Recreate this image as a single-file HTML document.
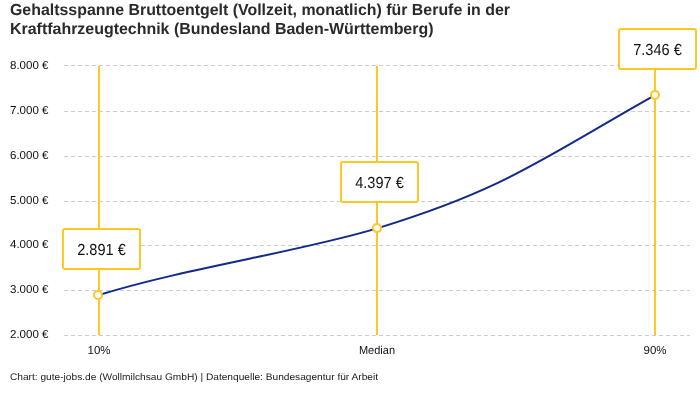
<!DOCTYPE html>
<html><head><meta charset="utf-8"><style>
html,body{margin:0;padding:0;background:#fff;}
body{width:700px;height:400px;overflow:hidden;font-family:"Liberation Sans",sans-serif;}
svg{display:block;}
</style></head><body>
<div style="will-change:transform;width:700px;height:400px;background:#fff">
<svg width="700" height="400" viewBox="0 0 700 400" font-family="Liberation Sans, sans-serif" text-rendering="geometricPrecision">
<rect width="700" height="400" fill="#fff"/>
<g stroke="#cccccc" stroke-width="1" stroke-dasharray="4 3">
<line x1="64" x2="690" y1="65.5" y2="65.5"/>
<line x1="64" x2="690" y1="111.5" y2="111.5"/>
<line x1="64" x2="690" y1="156.5" y2="156.5"/>
<line x1="64" x2="690" y1="201.5" y2="201.5"/>
<line x1="64" x2="690" y1="245.5" y2="245.5"/>
<line x1="64" x2="690" y1="290.5" y2="290.5"/>
<line x1="64" x2="690" y1="335.5" y2="335.5"/>
</g>
<g stroke="#fec723" stroke-width="2">
<line x1="99" x2="99" y1="66" y2="335"/>
<line x1="377" x2="377" y1="66" y2="335"/>
<line x1="655" x2="655" y1="66" y2="335"/>
</g>
<path transform="translate(0,0.3)" d="M98,295 C189.07,266.96 300.16,251.46 377,228.1 C505.92,188.91 543.83,157.40 655,94.9" fill="none" stroke="#112a8c" stroke-width="2"/>
<g stroke="#fec723" stroke-width="2" fill="#fff">
<circle cx="98" cy="295" r="4"/>
<circle cx="377" cy="228.1" r="4"/>
<circle cx="655" cy="94.9" r="4"/>
<rect x="63" y="229" width="77" height="40" rx="2"/>
<rect x="341" y="162" width="77" height="40" rx="2"/>
<rect x="619" y="29" width="77" height="40" rx="2"/>
</g>
<g>
<g font-weight="bold" font-size="16" fill="#2a2a2a">
<text x="10" y="14.75" textLength="500" lengthAdjust="spacingAndGlyphs">Gehaltsspanne Bruttoentgelt (Vollzeit, monatlich) für Berufe in der</text>
<text x="10" y="33.6" textLength="423.5" lengthAdjust="spacingAndGlyphs">Kraftfahrzeugtechnik (Bundesland Baden-Württemberg)</text>
</g>
<g font-size="11.5" fill="#111">
<text x="10" y="69" textLength="38.5" lengthAdjust="spacingAndGlyphs">8.000 €</text>
<text x="10" y="114" textLength="38.5" lengthAdjust="spacingAndGlyphs">7.000 €</text>
<text x="10" y="159" textLength="38.5" lengthAdjust="spacingAndGlyphs">6.000 €</text>
<text x="10" y="204" textLength="38.5" lengthAdjust="spacingAndGlyphs">5.000 €</text>
<text x="10" y="248" textLength="38.5" lengthAdjust="spacingAndGlyphs">4.000 €</text>
<text x="10" y="293" textLength="38.5" lengthAdjust="spacingAndGlyphs">3.000 €</text>
<text x="10" y="338" textLength="38.5" lengthAdjust="spacingAndGlyphs">2.000 €</text>
</g>
<g font-size="16" fill="#111" text-anchor="middle">
<text x="101.5" y="255" textLength="48.5" lengthAdjust="spacingAndGlyphs">2.891 €</text>
<text x="379.5" y="188" textLength="48.5" lengthAdjust="spacingAndGlyphs">4.397 €</text>
<text x="657.5" y="55" textLength="48.5" lengthAdjust="spacingAndGlyphs">7.346 €</text>
</g>
<g font-size="11.5" fill="#111" text-anchor="middle">
<text x="99" y="354">10%</text>
<text x="377" y="354" textLength="36.1" lengthAdjust="spacingAndGlyphs">Median</text>
<text x="655" y="354">90%</text>
</g>
<text x="10" y="379.8" font-size="9.5" fill="#1a1a1a" textLength="368" lengthAdjust="spacingAndGlyphs">Chart: gute-jobs.de (Wollmilchsau GmbH) | Datenquelle: Bundesagentur für Arbeit</text>
</g>
</svg>
</div>
</body></html>
